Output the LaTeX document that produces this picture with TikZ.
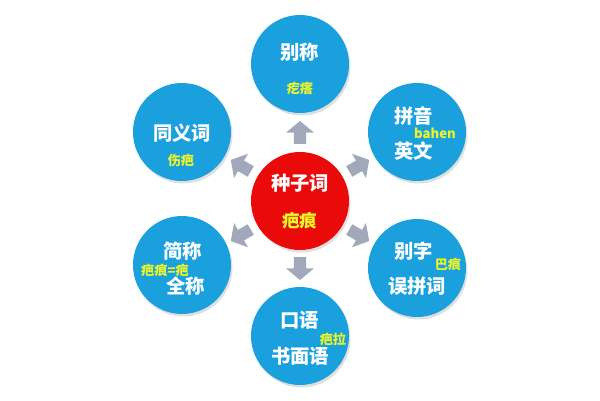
\documentclass[tikz,border=0pt]{standalone}
\usepackage{fontspec}
\setmainfont{Noto Sans CJK SC}
\usepackage{tikz}
\usetikzlibrary{shapes.arrows, shadows}
\definecolor{ballblue}{RGB}{27,160,222}
\definecolor{seedred}{RGB}{235,10,10}
\definecolor{tagyellow}{RGB}{235,245,40}
\definecolor{arrowgray}{RGB}{160,168,185}
\tikzset{
  ball/.style={circle, fill=ballblue, minimum size=1.96cm, inner sep=0pt,
    drop shadow={shadow xshift=0.03cm, shadow yshift=-0.05cm, opacity=0.25}},
  word/.style={text=white, font=\bfseries\fontsize{11}{12}\selectfont},
  tag/.style={text=tagyellow, font=\bfseries\fontsize{7.5}{8}\selectfont, inner sep=0pt},
  pointer/.style={single arrow, fill=arrowgray, minimum height=0.46cm,
    minimum width=0.56cm, single arrow head extend=0.1cm,
    single arrow tip angle=100, inner sep=0.07cm}
}
\begin{document}
\begin{tikzpicture}[x=0.02cm, y=-0.02cm]
    % 画布
    \useasboundingbox (0,0) rectangle (600,400);
    % 外围圆
    \node[ball] (top) at (300,64) {};
    \node[ball] (lt) at (182,132) {};
    \node[ball] (rt) at (417,132) {};
    \node[ball] (lb) at (182,265) {};
    \node[ball] (rb) at (417,268) {};
    \node[ball] (bot) at (300,336) {};
    % 中心圆
    \node[ball, fill=seedred] (seed) at (300,201) {};
    % 箭头
    \node[pointer, rotate=90] (aup) at (300,135) {};
    \node[pointer, rotate=-90] (adown) at (300,266) {};
    \node[pointer, rotate=150] (alt) at (243,167) {};
    \node[pointer, rotate=30] (art) at (357,167) {};
    \node[pointer, rotate=210] (alb) at (243,234) {};
    \node[pointer, rotate=330] (arb) at (357,234) {};
    % 文字
    \node[word] (seedw) at (300,183) {种子词};
    \node[tag, font=\bfseries\fontsize{10}{11}\selectfont] (seedt) at (300,221) {疤痕};
    \node[word] (topw) at (300,52) {别称};
    \node[tag] (topt) at (300,88) {疙瘩};
    \node[word] (ltw) at (182,133) {同义词};
    \node[tag] (ltt) at (181,160) {伤疤};
    \node[word] (rtw1) at (414,116) {拼音};
    \node[tag] (rtt) at (435,133) {bahen};
    \node[word] (rtw2) at (414,151) {英文};
    \node[word] (lbw1) at (183,251) {简称};
    \node[tag] (lbt) at (165,270) {疤痕=疤};
    \node[word] (lbw2) at (186,286) {全称};
    \node[word] (rbw1) at (414,251) {别字};
    \node[tag] (rbt) at (448,264) {巴痕};
    \node[word] (rbw2) at (417,286) {误拼词};
    \node[word] (botw1) at (300,320) {口语};
    \node[tag] (bott) at (333,339) {疤拉};
    \node[word] (botw2) at (300,356) {书面语};
\end{tikzpicture}
\end{document}
